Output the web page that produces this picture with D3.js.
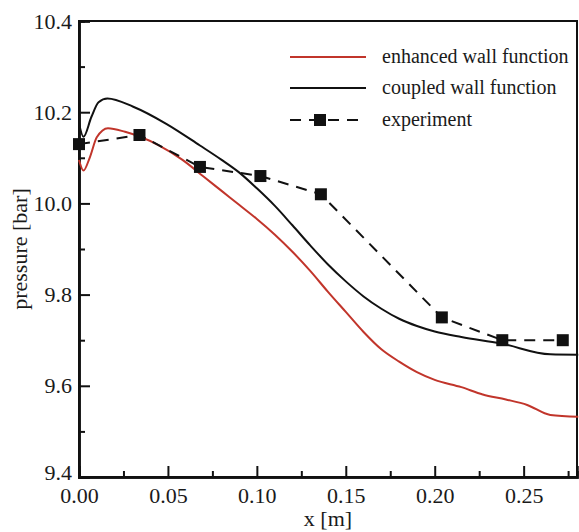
<!DOCTYPE html>
<html>
<head>
<meta charset="utf-8">
<script src="https://cdn.jsdelivr.net/npm/d3@7"></script>
<style>
    body { margin: 0; background: #fff; }
    #chart-container { width: 579px; height: 532px; }
    text { font-family: "Liberation Serif", "Times New Roman", serif; fill: #1a1a1a; }
</style>
</head>
<body>
<div id="chart-container"></div>
<script>
// enhanced wall function (red)
const enhancedX = [0, 0.0025, 0.006, 0.010, 0.0163, 0.0259, 0.0446, 0.058, 0.07, 0.08, 0.09, 0.10, 0.11, 0.12, 0.13, 0.14, 0.15, 0.16, 0.17, 0.18, 0.19, 0.20, 0.215, 0.227, 0.24, 0.252, 0.265, 0.2807];
const enhancedY = [10.095, 10.072, 10.10, 10.145, 10.165, 10.157, 10.128, 10.096, 10.059, 10.028, 9.997, 9.966, 9.932, 9.894, 9.852, 9.806, 9.762, 9.718, 9.680, 9.653, 9.630, 9.613, 9.597, 9.581, 9.570, 9.558, 9.536, 9.532];

// coupled wall function (black)
const coupledX = [0, 0.0025, 0.007, 0.011, 0.016, 0.0305, 0.0493, 0.068, 0.08, 0.09, 0.10, 0.11, 0.12, 0.13, 0.14, 0.15, 0.16, 0.17, 0.18, 0.19, 0.20, 0.215, 0.237, 0.265, 0.2807];
const coupledY = [10.176, 10.146, 10.19, 10.222, 10.230, 10.212, 10.174, 10.127, 10.096, 10.068, 10.033, 9.995, 9.952, 9.908, 9.866, 9.829, 9.796, 9.769, 9.747, 9.731, 9.719, 9.707, 9.693, 9.669, 9.668];

// experiment (squares, dashed)
const expX = [0, 0.034, 0.068, 0.102, 0.136, 0.204, 0.238, 0.272];
const expY = [10.13, 10.15, 10.08, 10.06, 10.02, 9.75, 9.70, 9.70];

const xTicks = [0, 0.05, 0.10, 0.15, 0.20, 0.25];
const xMinorTicks = [0.025, 0.075, 0.125, 0.175, 0.225, 0.275];
const yTicks = [9.4, 9.6, 9.8, 10.0, 10.2, 10.4];
const yMinorTicks = [9.5, 9.7, 9.9, 10.1, 10.3];

const legendLabels = ["enhanced wall function", "coupled wall function", "experiment"];

const RED = "#c1352b";

class PressureChart {
    constructor() {
        this.container = d3.select("#chart-container");
        this.margin = {top: 21, right: 2, bottom: 55, left: 79};
        this.init();
        this.render();
    }

    init() {
        const W = 579, H = 532;
        this.width = W - this.margin.left - this.margin.right;
        this.height = H - this.margin.top - this.margin.bottom;

        this.svg = this.container.append("svg")
            .attr("width", W)
            .attr("height", H);

        this.g = this.svg.append("g")
            .attr("transform", `translate(${this.margin.left},${this.margin.top})`);

        this.x = d3.scaleLinear().domain([0, 0.28]).range([0, this.width]);
        this.y = d3.scaleLinear().domain([9.4, 10.4]).range([this.height, 0]);
    }

    render() {
        const g = this.g;

        // frame
        g.append("rect")
            .attr("width", this.width)
            .attr("height", this.height)
            .attr("fill", "none")
            .attr("stroke", "#111")
            .attr("stroke-width", 2);

        // axes (ticks point inward)
        g.append("g")
            .attr("transform", `translate(0,${this.height})`)
            .call(d3.axisBottom(this.x).tickValues(xTicks).tickSize(-11).tickPadding(10)
                .tickFormat(d3.format(".2f")));
        g.append("g")
            .attr("transform", `translate(0,${this.height})`)
            .call(d3.axisBottom(this.x).tickValues(xMinorTicks).tickSize(-6).tickFormat(""));

        const yAxis = g.append("g")
            .call(d3.axisLeft(this.y).tickValues(yTicks).tickSize(-11).tickPadding(7)
                .tickFormat(d3.format(".1f")));
        g.append("g")
            .call(d3.axisLeft(this.y).tickValues(yMinorTicks).tickSize(-6).tickFormat(""));

        g.selectAll(".domain").attr("stroke", "#111").attr("stroke-width", 2.5);
        g.selectAll(".tick line").attr("stroke", "#111").attr("stroke-width", 2);
        g.selectAll(".tick text")
            .style("font-family", '"Liberation Serif", "Times New Roman", serif')
            .style("font-size", "22px")
            .attr("fill", "#1a1a1a");

        // lift the bottom y label a little so it clears "0.00"
        yAxis.selectAll(".tick text")
            .filter(d => d === 9.4)
            .attr("y", -5);

        // axis titles
        this.svg.append("text")
            .attr("x", this.margin.left + this.width / 2)
            .attr("y", 526)
            .attr("text-anchor", "middle")
            .style("font-size", "22px")
            .text("x [m]");

        this.svg.append("text")
            .attr("transform", `translate(27,${this.margin.top + this.height / 2}) rotate(-90)`)
            .attr("text-anchor", "middle")
            .style("font-size", "22px")
            .text("pressure [bar]");

        // lines
        const line = d3.line()
            .x(d => this.x(d[0]))
            .y(d => this.y(d[1]))
            .curve(d3.curveMonotoneX);

        const enhanced = enhancedX.map((v, i) => [v, enhancedY[i]]);
        const coupled = coupledX.map((v, i) => [v, coupledY[i]]);
        const experiment = expX.map((v, i) => [v, expY[i]]);

        g.append("path")
            .datum(enhanced)
            .attr("d", line)
            .attr("fill", "none")
            .attr("stroke", RED)
            .attr("stroke-width", 2);

        g.append("path")
            .datum(coupled)
            .attr("d", line)
            .attr("fill", "none")
            .attr("stroke", "#111")
            .attr("stroke-width", 2);

        g.append("path")
            .datum(experiment)
            .attr("d", d3.line().x(d => this.x(d[0])).y(d => this.y(d[1])))
            .attr("fill", "none")
            .attr("stroke", "#111")
            .attr("stroke-width", 2)
            .attr("stroke-dasharray", "11,8");

        g.selectAll(".exp-point")
            .data(experiment)
            .enter().append("rect")
            .attr("class", "exp-point")
            .attr("x", d => this.x(d[0]) - 6)
            .attr("y", d => this.y(d[1]) - 6)
            .attr("width", 12)
            .attr("height", 12)
            .attr("fill", "#111");

        // legend
        const legend = this.svg.append("g");
        const rows = [57, 88, 120];
        const styles = [
            {stroke: RED, dash: null},
            {stroke: "#111", dash: null},
            {stroke: "#111", dash: "11,8"}
        ];
        legendLabels.forEach((label, i) => {
            legend.append("line")
                .attr("x1", 290).attr("x2", 366)
                .attr("y1", rows[i]).attr("y2", rows[i])
                .attr("stroke", styles[i].stroke)
                .attr("stroke-width", 2)
                .attr("stroke-dasharray", styles[i].dash);
            legend.append("text")
                .attr("x", 382)
                .attr("y", rows[i] + 6)
                .style("font-size", "20px")
                .text(label);
        });
        legend.append("rect")
            .attr("x", 314).attr("y", rows[2] - 6)
            .attr("width", 12).attr("height", 12)
            .attr("fill", "#111");
    }
}

new PressureChart();
</script>
</body>
</html>
